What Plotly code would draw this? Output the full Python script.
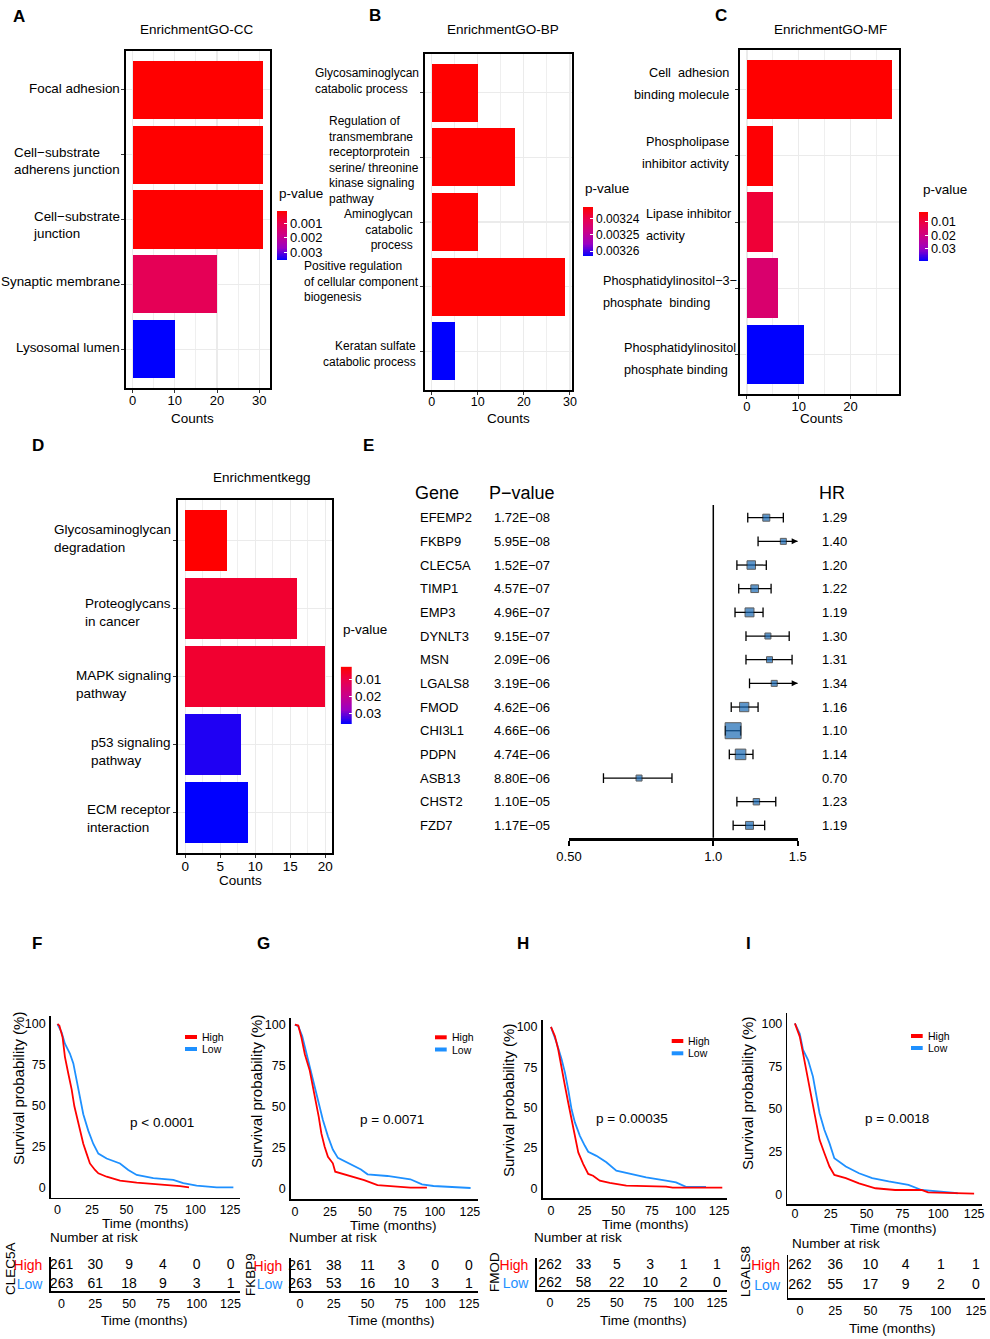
import numpy as np
import plotly.graph_objects as go

# ------------------------------------------------------------------ data
cc_terms = ["Focal adhesion", "Cell−substrate\nadherens junction", "Cell−substrate\njunction",
            "Synaptic membrane", "Lysosomal lumen"]
cc_counts = [31, 31, 31, 20, 10]
cc_pvalues = [0.00017, 0.00017, 0.00017, 0.0011, 0.00355]
cc_pticks = [0.001, 0.002, 0.003]

bp_terms = ["Glycosaminoglycan\ncatabolic process",
            "Regulation of\ntransmembrane\nreceptorprotein\nserine/ threonine\nkinase signaling\npathway",
            "Aminoglycan\ncatabolic\nprocess",
            "Positive regulation\nof cellular component\nbiogenesis",
            "Keratan sulfate\ncatabolic process"]
bp_counts = [10, 18, 10, 29, 5]
bp_pvalues = [0.003233, 0.003233, 0.003233, 0.003233, 0.003263]
bp_pticks = [0.00324, 0.00325, 0.00326]

mf_terms = ["Cell  adhesion\nbinding molecule", "Phospholipase\ninhibitor activity",
            "Lipase inhibitor\nactivity", "Phosphatidylinositol−3−\nphosphate  binding",
            "Phosphatidylinositol\nphosphate binding"]
mf_counts = [28, 5, 5, 6, 11]
mf_pvalues = [0.0026, 0.0030, 0.0088, 0.0164, 0.0390]
mf_pticks = [0.01, 0.02, 0.03]

kegg_terms = ["Glycosaminoglycan\ndegradation", "Proteoglycans\nin cancer", "MAPK signaling\npathway",
              "p53 signaling\npathway", "ECM receptor\ninteraction"]
kegg_counts = [6, 16, 20, 8, 9]
kegg_pvalues = [0.0026, 0.0077, 0.0077, 0.0346, 0.0363]
kegg_pticks = [0.01, 0.02, 0.03]

genes = ["EFEMP2", "FKBP9", "CLEC5A", "TIMP1", "EMP3", "DYNLT3", "MSN", "LGALS8",
         "FMOD", "CHI3L1", "PDPN", "ASB13", "CHST2", "FZD7"]
gene_pvalues = [1.72e-08, 5.95e-08, 1.52e-07, 4.57e-07, 4.96e-07, 9.15e-07, 2.09e-06,
                3.19e-06, 4.62e-06, 4.66e-06, 4.74e-06, 8.80e-06, 1.10e-05, 1.17e-05]
hr = [1.29, 1.40, 1.20, 1.22, 1.19, 1.30, 1.31, 1.34, 1.16, 1.10, 1.14, 0.70, 1.23, 1.19]
hr_low = [1.18, 1.24, 1.12, 1.13, 1.11, 1.17, 1.17, 1.19, 1.09, 1.06, 1.08, 0.59, 1.12, 1.10]
hr_high = [1.40, 1.58, 1.29, 1.32, 1.27, 1.44, 1.46, 1.55, 1.24, 1.14, 1.21, 0.82, 1.35, 1.28]
hr_ticks = [0.5, 1.0, 1.5]
hr_ticktext = ["0.50", "1.0", "1.5"]

time_ticks = [0, 25, 50, 75, 100, 125]
surv_ticks = [0, 25, 50, 75, 100]

clec5a_high_t = [0, 1.4, 3.7, 5.4, 7.8, 10.3, 12.2, 14.4, 16.8, 18.7, 21.1, 23.5, 27.2, 29.6, 35.6, 45.3, 57.4, 71.9, 88.8, 95.3]
clec5a_high_s = [100, 99, 92, 80, 70, 60, 50, 41.5, 33, 27, 21, 15, 11, 9, 6.9, 4.5, 3.3, 2.4, 1.2, 0.4]
clec5a_low_t = [0, 3, 5.4, 9, 11.5, 13.9, 16.3, 18.7, 22.3, 25.9, 29.6, 35.6, 45.3, 51.3, 57.4, 69.4, 83.9, 91.1, 100.8, 115.3, 127.4]
clec5a_low_s = [100, 95, 88, 82, 76, 65.8, 55.5, 45, 35, 27, 21, 18, 15, 11, 8, 6, 5, 3, 1.4, 0.4, 0.4]
clec5a_risk_high = [261, 30, 9, 4, 0, 0]
clec5a_risk_low = [263, 61, 18, 9, 3, 1]

fkbp9_high_t = [0, 2.4, 4.7, 7.1, 10.6, 13, 15.3, 17, 18.9, 21.2, 23.6, 27.1, 28.8, 33, 40.1, 49.5, 59, 73.1, 82.5, 94.3]
fkbp9_high_s = [100, 99.4, 92, 82, 72, 62, 52, 44, 33.8, 25.8, 19.6, 15.6, 10.5, 9.5, 7.5, 5.4, 2.4, 1.4, 0.8, 0.8]
fkbp9_low_t = [0, 2.4, 5.2, 8.3, 11.8, 14.1, 17.7, 20, 23.6, 27.1, 30.7, 37.7, 47.2, 51.9, 66, 82.5, 90.8, 99, 110.8, 125.5]
fkbp9_low_s = [100, 99, 93, 82, 70, 62, 50, 42, 32, 24, 18.9, 16, 11.9, 8.9, 7.9, 5.9, 2.8, 1.8, 1.2, 0.6]
fkbp9_risk_high = [261, 38, 11, 3, 0, 0]
fkbp9_risk_low = [263, 53, 16, 10, 3, 1]

fmod_high_t = [0, 2.9, 5.4, 7.9, 10.4, 12.8, 15.3, 17.8, 20.3, 24, 27.7, 31.3, 36.3, 43.7, 56, 85.6, 90.5, 127.4]
fmod_high_s = [100, 94.3, 86, 75.8, 63.5, 53.2, 42.9, 30.6, 22.3, 15.1, 9, 7.9, 4.8, 3.4, 1.7, 1.1, 0.5, 0.5]
fmod_low_t = [0, 4.2, 7.9, 10.4, 12.8, 15.3, 17.8, 21.5, 25.2, 27.7, 33.8, 41.2, 48.6, 58.4, 70.8, 85.6, 93, 100.4, 115.3]
fmod_low_s = [100, 90.2, 80, 71.7, 61.4, 49, 40.9, 32.6, 26.4, 22.7, 20.2, 16.2, 11, 9, 6.9, 4.8, 3.8, 1.0, 1.0]
fmod_risk_high = [262, 33, 5, 3, 1, 1]
fmod_risk_low = [262, 58, 22, 10, 2, 0]

lgals8_high_t = [0, 3.4, 5.7, 8, 10.3, 12.6, 14.9, 17.2, 20.6, 24.1, 27.5, 35.5, 44.7, 56.2, 69.9, 88.3, 92.9, 125]
lgals8_high_s = [100, 92.3, 82.5, 72.8, 63, 53.3, 41.6, 31.9, 24.1, 16.3, 11.4, 9.5, 6.5, 3.6, 2.6, 2.6, 1.2, 0.5]
lgals8_low_t = [0, 3.4, 5.7, 9.2, 12.6, 14.9, 17.2, 20.6, 24.1, 27.5, 35.5, 44.7, 53.9, 65.4, 79.2, 88.3, 113.5]
lgals8_low_s = [100, 94, 84.5, 78.6, 68.9, 59.2, 47.5, 37.7, 30, 21.2, 16.3, 12.4, 9.5, 7.6, 5.6, 2.6, 0.7]
lgals8_risk_high = [262, 36, 10, 4, 1, 1]
lgals8_risk_low = [262, 55, 17, 9, 2, 0]

# ------------------------------------------------------------------ styling helpers
W, H = 990, 1339
FONT = "Liberation Sans, Arial, Helvetica, sans-serif"
RED, BLUE = "#FF0000", "#1E90FF"
GRAD = [[0.0, "#FF0000"], [0.25, "#E80050"], [0.5, "#CA0089"], [0.75, "#9A00C3"], [1.0, "#0000FF"]]
GRID = "#EBEBEB"


def X(px):
    return px / W


def Y(py):
    return 1 - py / H


fig = go.Figure()
axes_layout = {}
annotations = []
shapes = []
n_axes = [0]


def new_axes(xdom, ydom, xopt, yopt):
    n_axes[0] += 1
    s = "" if n_axes[0] == 1 else str(n_axes[0])
    xopt = dict(xopt)
    yopt = dict(yopt)
    xopt.setdefault("automargin", False)
    yopt.setdefault("automargin", False)
    axes_layout["xaxis" + s] = dict(domain=[X(xdom[0]), X(xdom[1])], anchor="y" + s, **xopt)
    axes_layout["yaxis" + s] = dict(domain=[Y(ydom[1]), Y(ydom[0])], anchor="x" + s, **yopt)
    return "x" + s, "y" + s


def note(x, y, s, size=13, xanchor="center", yanchor="middle", color="black", bold=False,
         angle=0, align="center", xref="paper", yref="paper", yshift=0):
    annotations.append(dict(x=x, y=y, xref=xref, yref=yref, text=(f"<b>{s}</b>" if bold else s),
                            showarrow=False, xanchor=xanchor, yanchor=yanchor, align=align,
                            textangle=angle, yshift=yshift,
                            font=dict(family=FONT, size=size, color=color)))


# ------------------------------------------------------------------ enrichment bar panels
bar_panels = [
    dict(terms=cc_terms, counts=cc_counts, p=cc_pvalues, ticks=cc_pticks, title="EnrichmentGO-CC",
         xdom=(126, 270), ydom=(51, 388), dtick=10, title_xy=(197, 30), counts_xy=(192, 418),
         cbar=(277, 287, 211, 260), pv_xy=(277, 193), tick_size=13, cbar_size=13,
         lab_size=13.4, lab_x=[122] * 5, lab_align=["left"] * 5, spacing=None,
         lab_shift=[1, -6, -6, 3, 2]),
    dict(terms=bp_terms, counts=bp_counts, p=bp_pvalues, ticks=bp_pticks, title="EnrichmentGO-BP",
         xdom=(425, 572), ydom=(54, 390), dtick=10, title_xy=(503, 30), counts_xy=(508, 418),
         cbar=(583, 593, 207, 256), pv_xy=(583, 188), tick_size=12.5, cbar_size=12,
         lab_size=12, lab_x=[421, 421, 415, 421, 418],
         lab_align=["left", "left", "right", "left", "right"], spacing=None,
         lab_shift=[12, -3, -7, 5, -3]),
    dict(terms=mf_terms, counts=mf_counts, p=mf_pvalues, ticks=mf_pticks, title="EnrichmentGO-MF",
         xdom=(739.7, 899.3), ydom=(50, 394), dtick=10, title_xy=(830, 30), counts_xy=(821, 418),
         cbar=(919, 928, 212, 261), pv_xy=(921, 189), tick_size=13, cbar_size=12.8,
         lab_size=12.7, lab_x=[731, 731, 644, 600.7, 621.7],
         lab_align=["right", "right", "left", "left", "left"], spacing=22,
         lab_shift=[6, 3, -3.5, -4, -4.5]),
    dict(terms=kegg_terms, counts=kegg_counts, p=kegg_pvalues, ticks=kegg_pticks, title="Enrichmentkegg",
         xdom=(178.3, 332.3), ydom=(500, 853.3), dtick=5, title_xy=(261.7, 477.3), counts_xy=(240, 880),
         cbar=(340.7, 352, 666.7, 724), pv_xy=(341, 629), tick_size=13.5, cbar_size=13.5,
         lab_size=13.5, lab_x=[173] * 5, lab_align=["left"] * 5, spacing=None,
         lab_shift=[2, -4, -7.5, -7, -6]),
]

for bp in bar_panels:
    terms, counts, pv = bp["terms"], bp["counts"], bp["p"]
    cmin, cmax = min(pv), max(pv)
    mx = max(counts)
    xa, ya = new_axes(
        bp["xdom"], bp["ydom"],
        dict(range=[-0.05 * mx, 1.05 * mx], dtick=bp["dtick"], tick0=0, showline=True, mirror=True,
             linecolor="black", linewidth=2, showgrid=True, gridcolor=GRID, gridwidth=1.2,
             minor=dict(dtick=bp["dtick"] / 2, showgrid=True, gridcolor=GRID, gridwidth=0.8),
             zeroline=False, ticks="outside", ticklen=3, tickcolor="#333333",
             ticklabelstandoff=-4, tickfont=dict(size=bp["tick_size"], color="black")),
        dict(type="category", categoryorder="array", categoryarray=terms,
             range=[len(terms) - 0.4, -0.6], showline=True, mirror=True, linecolor="black",
             linewidth=2, showgrid=True, gridcolor=GRID, gridwidth=1.2, zeroline=False,
             ticks="outside", ticklen=3, tickcolor="#333333", showticklabels=False))
    fig.add_trace(go.Bar(x=counts, y=terms, orientation="h", width=0.9,
                         marker=dict(color=pv, colorscale=GRAD, cmin=cmin, cmax=cmax, line=dict(width=0)),
                         xaxis=xa, yaxis=ya, showlegend=False))
    # category labels
    for i, term in enumerate(terms):
        lines = term.split("\n")
        al = bp["lab_align"][i]
        sh = bp["lab_shift"][i]
        if bp["spacing"] is None:
            note(X(bp["lab_x"][i]), i, "<br>".join(lines), size=bp["lab_size"], xanchor="right",
                 align=al, yref=ya, yshift=sh)
        else:
            n = len(lines)
            for k, ln in enumerate(lines):
                note(X(bp["lab_x"][i]), i, ln, size=bp["lab_size"],
                     xanchor=("right" if al == "right" else "left"), yref=ya,
                     yshift=sh - (k - (n - 1) / 2) * bp["spacing"])
    note(X(bp["title_xy"][0]), Y(bp["title_xy"][1]), bp["title"], size=13.5)
    note(X(bp["counts_xy"][0]), Y(bp["counts_xy"][1]), "Counts", size=13.5)
    note(X(bp["pv_xy"][0]), Y(bp["pv_xy"][1]), "p-value", size=13.5, xanchor="left")
    # colour bar (reversed: low p-value on top, as in the reference)
    x0, x1, y0, y1 = bp["cbar"]
    vals = np.linspace(cmin, cmax, 80)
    ca, cy = new_axes((x0, x1), (y0, y1),
                      dict(range=[-0.5, 0.5], visible=False, fixedrange=True),
                      dict(range=[cmax, cmin], side="right", tickvals=bp["ticks"],
                           ticktext=[f"{t:g}" for t in bp["ticks"]], ticks="inside", ticklen=3,
                           tickcolor="white", tickwidth=1, showgrid=False, showline=False,
                           zeroline=False, ticklabelstandoff=2,
                           tickfont=dict(size=bp["cbar_size"], color="black")))
    fig.add_trace(go.Heatmap(z=[[v] for v in vals], x=[0], y=vals, colorscale=GRAD, zmin=cmin,
                             zmax=cmax, showscale=False, xaxis=ca, yaxis=cy, hoverinfo="skip"))

# ------------------------------------------------------------------ forest plot (E)
lx0, lx1 = np.log10(hr_ticks[0]), np.log10(hr_ticks[-1])
fa, fy = new_axes((569, 797.7), (505, 837.7),
                  dict(type="log", range=[lx0, lx1], tickvals=hr_ticks, ticktext=hr_ticktext,
                       showline=True, linewidth=3, linecolor="black", ticks="outside", ticklen=5,
                       tickwidth=2, tickcolor="black", showgrid=False, zeroline=False,
                       tickfont=dict(size=13, color="black")),
                  dict(type="category", categoryorder="array", categoryarray=genes,
                       range=[len(genes) - 0.48, -0.536], visible=False))
xmax = hr_ticks[-1]
seg_x, seg_y, cap_x, cap_y = [], [], [], []
for g, lo, hi in zip(genes, hr_low, hr_high):
    seg_x += [lo, min(hi, xmax), None]
    seg_y += [g, g, None]
    cap_x.append(lo)
    cap_y.append(g)
    if hi <= xmax:
        cap_x.append(hi)
        cap_y.append(g)
    else:
        frac = (np.log10(xmax) - lx0) / (lx1 - lx0)
        annotations.append(dict(x=frac, y=g, xref=fa + " domain", yref=fy, text="", showarrow=True,
                                ax=-7, ay=0, arrowhead=2, arrowsize=1, arrowwidth=1.2,
                                arrowcolor="black"))
fig.add_trace(go.Scatter(x=seg_x, y=seg_y, mode="lines", line=dict(color="black", width=1.3),
                         xaxis=fa, yaxis=fy, showlegend=False, hoverinfo="skip"))
fig.add_trace(go.Scatter(x=cap_x, y=cap_y, mode="markers",
                         marker=dict(symbol="line-ns", size=7, line=dict(width=1.3, color="black")),
                         xaxis=fa, yaxis=fy, showlegend=False, hoverinfo="skip"))
sizes = [float(np.clip(1.2 / np.log(h / l), 6, 16)) for l, h in zip(hr_low, hr_high)]
fig.add_trace(go.Scatter(x=hr, y=genes, mode="markers",
                         marker=dict(symbol="square", size=sizes, color="#1B6AB5",
                                     line=dict(width=1, color="#1A1A1A")),
                         xaxis=fa, yaxis=fy, showlegend=False))
ref_frac = (np.log10(1.0) - lx0) / (lx1 - lx0)
shapes.append(dict(type="line", xref=fa + " domain", yref=fy + " domain", x0=ref_frac, x1=ref_frac,
                   y0=0, y1=1, line=dict(color="black", width=1.5), layer="below"))
for g, pv, h in zip(genes, gene_pvalues, hr):
    note(X(418.3), g, g, size=13, xanchor="left", yref=fy)
    note(X(491.7), g, f"{pv:.2E}".replace("-", "−"), size=13, xanchor="left", yref=fy)
    note(X(820), g, f"{h:.2f}", size=13, xanchor="left", yref=fy)
note(X(413), Y(492.7), "Gene", size=18, xanchor="left")
note(X(487), Y(492.7), "P−value", size=18, xanchor="left")
note(X(816.7), Y(492.7), "HR", size=18, xanchor="left")

# ------------------------------------------------------------------ Kaplan-Meier panels (F-I)
km_data = [
    ("CLEC5A", clec5a_high_t, clec5a_high_s, clec5a_low_t, clec5a_low_s, clec5a_risk_high, clec5a_risk_low, "p < 0.0001"),
    ("FKBP9", fkbp9_high_t, fkbp9_high_s, fkbp9_low_t, fkbp9_low_s, fkbp9_risk_high, fkbp9_risk_low, "p = 0.0071"),
    ("FMOD", fmod_high_t, fmod_high_s, fmod_low_t, fmod_low_s, fmod_risk_high, fmod_risk_low, "p = 0.00035"),
    ("LGALS8", lgals8_high_t, lgals8_high_s, lgals8_low_t, lgals8_low_s, lgals8_risk_high, lgals8_risk_low, "p = 0.0018"),
]
km_layout = [
    dict(xdom=(50.7, 240), ydom=(1016, 1197.7), xr=(-4.9, 132.2), yr=(-5.9, 104.9), xstand=0,
         txdom=(50.7, 240), txr=(-8.0, 132.0), tdom=(1257, 1291), rows=(1265, 1284),
         ytitle=(18, 1089), time1=(145, 1223),
         time2=(144, 1320), nar=(48, 1237), gene=(10, 1269), ptxt=(161.7, 1122),
         key=(185, 197, 1037, 1049)),
    dict(xdom=(290.7, 478), ydom=(1018, 1199), xr=(-3.0, 130.8), yr=(-6.1, 104), xstand=0,
         txdom=(290.7, 478), txr=(-6.9, 131.7), tdom=(1257.7, 1291), rows=(1266, 1284.5),
         ytitle=(256, 1092), time1=(393.3, 1225),
         time2=(391.7, 1320), nar=(286.7, 1237), gene=(250, 1275), ptxt=(391.7, 1119),
         key=(435, 446.7, 1037.3, 1049.5)),
    dict(xdom=(542.5, 727), ydom=(1020, 1198.3), xr=(-6.3, 130.9), yr=(-6.1, 104.3), xstand=0,
         txdom=(536.7, 727), txr=(-10.0, 132.5), tdom=(1258, 1290), rows=(1265, 1283.5),
         ytitle=(508, 1101), time1=(645, 1224),
         time2=(643.3, 1320), nar=(531.7, 1237), gene=(494, 1272), ptxt=(631.7, 1118.3),
         key=(671.7, 683.3, 1041, 1053.3)),
    dict(xdom=(787.3, 982), ydom=(1013, 1204), xr=(-5.3, 130.5), yr=(-5.6, 106.1), xstand=-3,
         txdom=(788.3, 985), txr=(-8.3, 131.4), tdom=(1255, 1298), rows=(1265, 1285),
         ytitle=(747, 1094), time1=(893.3, 1228.5),
         time2=(892.5, 1328), nar=(790, 1243), gene=(745, 1272), ptxt=(896.7, 1118.3),
         key=(911, 922.7, 1036, 1048)),
]

for (gene, ht, hs, lt, ls, rh, rl, ptxt), kl in zip(km_data, km_layout):
    common = dict(showline=True, linecolor="black", linewidth=1.5, ticks="", showgrid=False,
                  zeroline=False, tickfont=dict(size=12.5, color="black"))
    ka, ky = new_axes(kl["xdom"], kl["ydom"],
                      dict(range=list(kl["xr"]), tickvals=time_ticks, ticklabelstandoff=kl["xstand"], **common),
                      dict(range=list(kl["yr"]), tickvals=surv_ticks, ticklabelstandoff=1, **common))
    fig.add_trace(go.Scatter(x=lt, y=ls, mode="lines", line=dict(color=BLUE, width=1.8),
                             xaxis=ka, yaxis=ky, showlegend=False))
    fig.add_trace(go.Scatter(x=ht, y=hs, mode="lines", line=dict(color=RED, width=1.8),
                             xaxis=ka, yaxis=ky, showlegend=False))
    # risk table: rows "High" (1) and "Low" (0) placed at the pixel rows of the reference
    t_top, t_bot = kl["tdom"]
    r_hi, r_lo = kl["rows"]
    unit = r_lo - r_hi
    tyr = [-(t_bot - r_lo) / unit, 1 + (r_hi - t_top) / unit]
    ta, ty = new_axes(kl["txdom"], kl["tdom"], dict(range=list(kl["txr"]), tickvals=time_ticks, **common),
                      dict(range=tyr, tickvals=[1, 0],
                           ticktext=[f'<span style="color:{RED}">High</span>',
                                     f'<span style="color:{BLUE}">Low</span>'],
                           showline=True, linecolor="black", linewidth=1.5, ticks="", showgrid=False,
                           zeroline=False, ticklabelstandoff=4, tickfont=dict(size=14)))
    fig.add_trace(go.Scatter(x=time_ticks + time_ticks, y=[1] * len(rh) + [0] * len(rl),
                             text=[str(v) for v in rh + rl], mode="text",
                             textfont=dict(family=FONT, size=14, color="black"),
                             xaxis=ta, yaxis=ty, showlegend=False, cliponaxis=False, hoverinfo="skip"))
    # texts
    note(X(kl["ytitle"][0]), Y(kl["ytitle"][1]), "Survival probability (%)", size=15, angle=-90)
    note(X(kl["time1"][0]), Y(kl["time1"][1]), "Time (months)", size=13.5)
    note(X(kl["time2"][0]), Y(kl["time2"][1]), "Time (months)", size=13.5)
    note(X(kl["nar"][0]), Y(kl["nar"][1]), "Number at risk", size=13.5, xanchor="left")
    note(X(kl["gene"][0]), Y(kl["gene"][1]), gene, size=13.5, angle=-90)
    note(X(kl["ptxt"][0]), Y(kl["ptxt"][1]), ptxt, size=13.5)
    kx0, kx1, kyh, kyl = kl["key"]
    for yy, col, lab in ((kyh, RED, "High"), (kyl, BLUE, "Low")):
        shapes.append(dict(type="line", xref="paper", yref="paper", x0=X(kx0), x1=X(kx1),
                           y0=Y(yy), y1=Y(yy), line=dict(color=col, width=4)))
        note(X(kx1 + 3), Y(yy), lab, size=10.5, xanchor="left")

# ------------------------------------------------------------------ panel letters
for lab, lx, lyy in [("A", 19, 16), ("B", 375, 15), ("C", 720.7, 15), ("D", 38.3, 445.7),
                     ("E", 368.3, 445.7), ("F", 37, 943), ("G", 263.3, 943), ("H", 523.3, 943),
                     ("I", 748.3, 943)]:
    note(X(lx), Y(lyy), lab, size=17, bold=True)

fig.update_layout(width=W, height=H, margin=dict(l=0, r=0, t=0, b=0, pad=0), autosize=False,
                  paper_bgcolor="white", plot_bgcolor="white", showlegend=False,
                  font=dict(family=FONT, color="black"), annotations=annotations, shapes=shapes,
                  bargap=0, **axes_layout)
fig.write_html("out.html", config={"displayModeBar": False, "staticPlot": True},
               post_script="document.body.style.margin='0px';document.body.style.padding='0px';"
                           "document.body.style.overflow='hidden';")
